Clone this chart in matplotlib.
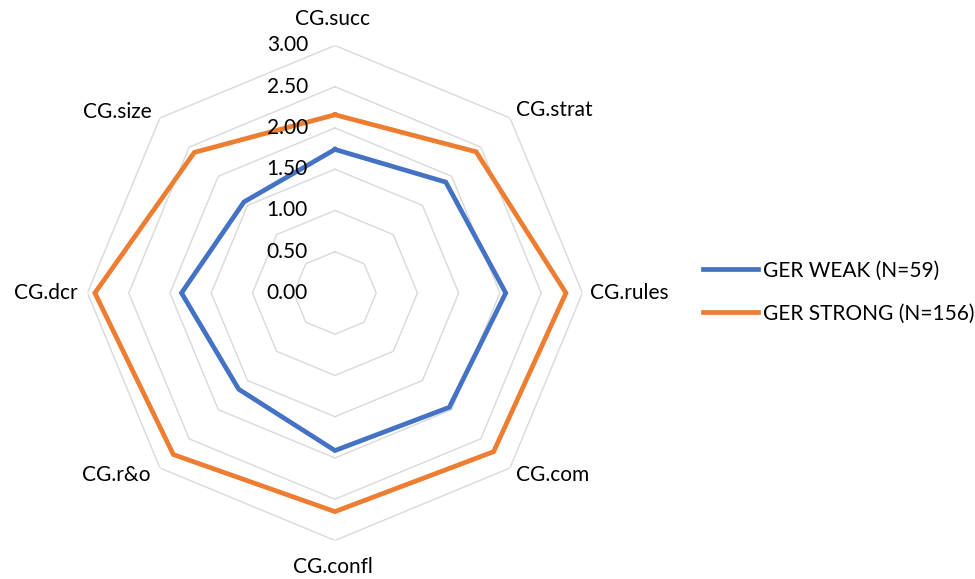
import numpy as np
import matplotlib
matplotlib.use("Agg")
import matplotlib.pyplot as plt

# data
categories = ["CG.succ", "CG.strat", "CG.rules", "CG.com",
              "CG.confl", "CG.r&o", "CG.dcr", "CG.size"]
weak = [1.74, 1.90, 2.07, 1.96, 1.91, 1.65, 1.86, 1.56]
strong = [2.16, 2.42, 2.80, 2.72, 2.65, 2.77, 2.91, 2.41]
levels = [0.5, 1.0, 1.5, 2.0, 2.5, 3.0]
tick_labels = ["0.00", "0.50", "1.00", "1.50", "2.00", "2.50", "3.00"]

plt.rcParams['font.family'] = ['Lato', 'DejaVu Sans']
FS = 15

fig = plt.figure(figsize=(9.75, 5.79), dpi=100)
ax = fig.add_axes([0.0897, 0.0665, 0.5077, 0.855], projection='polar')
ax.set_theta_offset(np.pi / 2)
ax.set_theta_direction(-1)
ax.set_ylim(0, 3)
ax.grid(False)
ax.spines['polar'].set_visible(False)
ax.set_xticks([])
ax.set_yticks([])

n = len(categories)
theta = np.linspace(0, 2 * np.pi, n, endpoint=False)
theta_c = np.append(theta, theta[0])

# octagon grid
for lv in levels:
    ax.plot(theta_c, [lv] * (n + 1), color='#d9d9d9', lw=1.0, zorder=1)

ax.plot(theta_c, weak + weak[:1], color='#4472C4', lw=3.4,
        label='GER WEAK (N=59)', zorder=3, solid_joinstyle='miter')
ax.plot(theta_c, strong + strong[:1], color='#ED7D31', lw=3.4,
        label='GER STRONG (N=156)', zorder=3, solid_joinstyle='miter')

# radial value labels
for v, lab in zip([0.0] + levels, tick_labels):
    ax.annotate(lab, xy=(0, v), xytext=(-27, 0), textcoords='offset pixels',
                ha='right', va='center', fontsize=FS, color='black',
                annotation_clip=False)

# category labels
offsets = [(-2, 26, 'center'), (6, 8, 'left'), (8, 0, 'left'), (6, -7, 'left'),
           (-2, -27, 'center'), (-9, -7, 'right'), (-10, 0, 'right'), (-8, 6, 'right')]
for t, cat, (dx, dy, ha) in zip(theta, categories, offsets):
    ax.annotate(cat, xy=(t, 3), xytext=(dx, dy), textcoords='offset pixels',
                ha=ha, va='center', fontsize=FS, color='black',
                annotation_clip=False)

fig.legend(loc='center left', bbox_to_anchor=(0.721, 0.4957), frameon=False,
           fontsize=FS, handlelength=2.65, handletextpad=0.22,
           labelspacing=1.1, borderpad=0, borderaxespad=0)

fig.savefig("out.png", dpi=100)
